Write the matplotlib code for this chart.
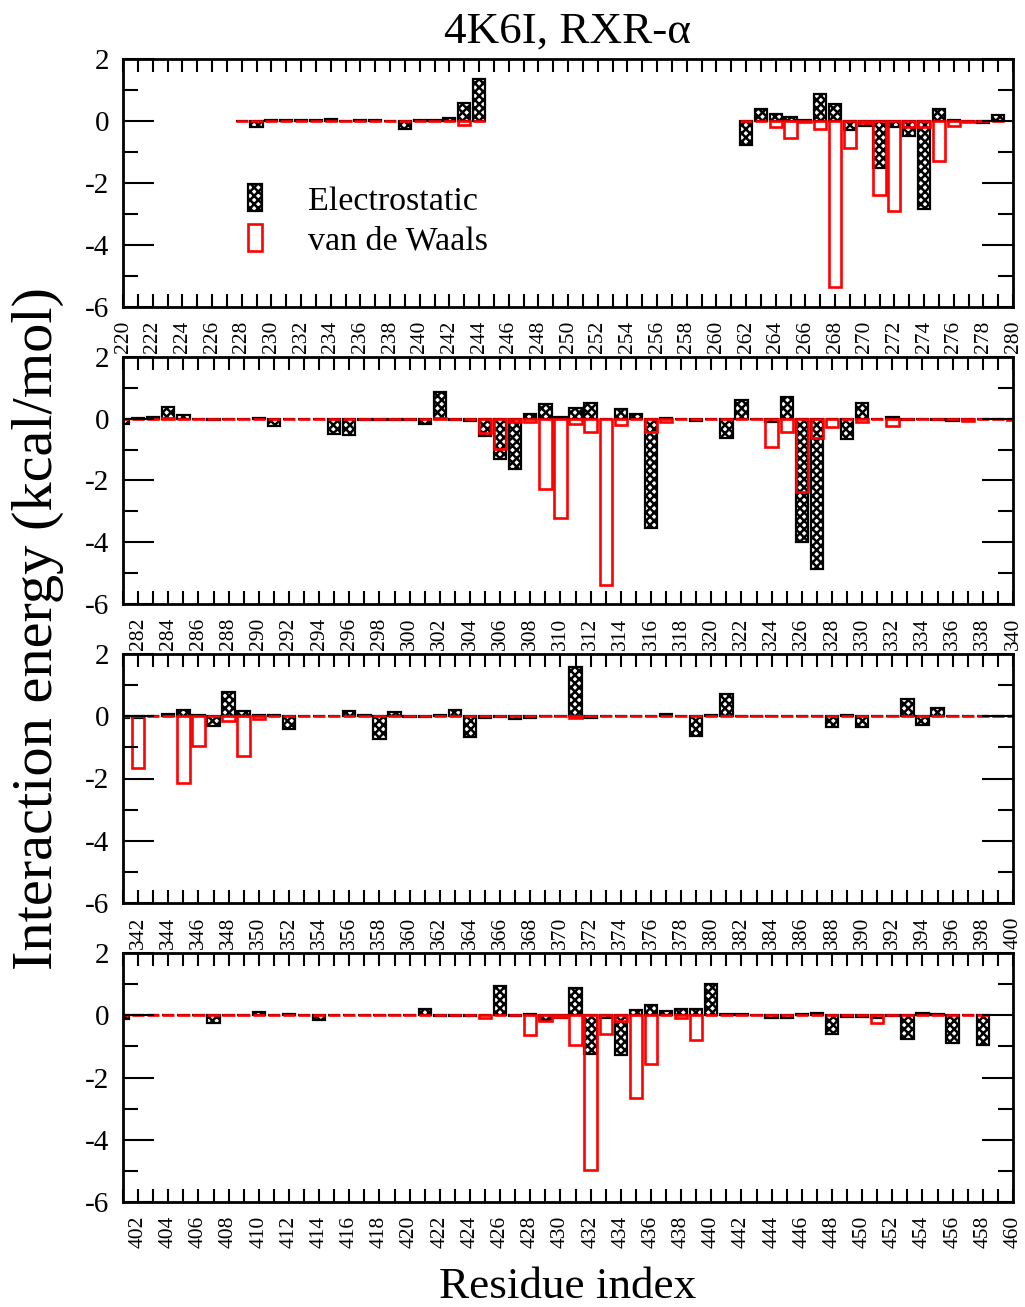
import numpy as np
import matplotlib
matplotlib.use("Agg")
import matplotlib.pyplot as plt
from matplotlib.patches import Patch
from matplotlib.ticker import MultipleLocator

plt.rcParams['font.family'] = ['Liberation Serif', 'DejaVu Serif']
plt.rcParams['hatch.linewidth'] = 1.8
plt.rcParams['axes.unicode_minus'] = False

# residue numbers (gap 245-261 and 280 have no data)
residues = np.concatenate([np.arange(228, 245), np.arange(262, 280), np.arange(281, 459)])

# electrostatic interaction energy (kcal/mol), one value per residue
elec = [
    # 228-244
    0.0, -0.19, 0.02, 0.03, 0.02, 0.03, 0.05, 0.0, 0.03, 0.03, 0.0, -0.27, 0.02, 0.02, 0.1, 0.59, 1.37,
    # 262-279
    -0.78, 0.38, 0.24, 0.14, 0.02, 0.86, 0.54, -0.3, -0.15, -1.5, -0.2, -0.48, -2.85, 0.38, 0.02, 0.0, -0.05, 0.19,
    # 281-300
    -0.17, 0.03, 0.05, 0.37, 0.13, 0.0, -0.05, 0.0, 0.0, 0.02, -0.25, 0.0, -0.02, 0.0, -0.48, -0.52, -0.05, -0.05, -0.05, -0.05,
    # 301-320
    -0.16, 0.88, -0.03, -0.08, -0.56, -1.31, -1.63, 0.14, 0.48, 0.05, 0.34, 0.5, 0.0, 0.32, 0.16, -3.55, 0.03, 0.0, -0.07, 0.0,
    # 321-340
    -0.62, 0.62, 0.0, -0.1, 0.72, -3.98, -4.87, 0.0, -0.67, 0.5, 0.0, 0.05, -0.05, 0.0, -0.03, -0.07, -0.03, 0.0, 0.0, 0.0,
    # 341-360
    -0.05, -0.05, 0.02, 0.07, 0.19, 0.03, -0.3, 0.77, 0.16, 0.03, 0.03, -0.41, 0.02, 0.0, 0.02, 0.16, 0.03, -0.72, 0.13, -0.03,
    # 361-380
    -0.03, 0.05, 0.21, -0.67, -0.05, -0.02, -0.1, -0.07, 0.0, 0.0, 1.58, -0.05, 0.0, 0.02, 0.0, 0.02, 0.07, 0.0, -0.65, 0.05,
    # 381-400
    0.7, 0.0, 0.02, 0.0, 0.0, 0.0, 0.0, -0.34, 0.03, -0.35, 0.02, 0.0, 0.57, -0.27, 0.27, 0.0, 0.0, 0.0, 0.0, 0.0,
    # 401-420
    -0.12, 0.0, 0.0, 0.0, 0.0, 0.0, -0.24, 0.0, 0.0, 0.1, 0.0, 0.03, 0.0, -0.16, 0.0, 0.0, 0.0, 0.0, 0.0, 0.0,
    # 421-440
    0.21, -0.03, -0.03, -0.03, 0.0, 0.95, -0.03, 0.05, -0.15, -0.08, 0.88, -1.24, -0.08, -1.29, 0.16, 0.32, 0.13, 0.19, 0.19, 1.0,
    # 441-458
    0.05, 0.03, 0.0, -0.1, -0.08, 0.05, 0.08, -0.59, -0.05, -0.05, -0.1, -0.03, -0.75, 0.08, 0.03, -0.89, 0.0, -0.95,
]

# van der Waals interaction energy (kcal/mol)
vdw = [
    # 228-244
    0.0, 0.0, 0.0, 0.0, 0.0, 0.0, 0.0, 0.0, 0.0, 0.0, 0.0, 0.0, 0.0, 0.0, 0.0, -0.12, 0.0,
    # 262-279
    0.0, 0.0, -0.19, -0.56, -0.02, -0.27, -5.35, -0.88, -0.08, -2.39, -2.9, -0.2, -0.2, -1.29, -0.16, -0.02, 0.0, 0.0,
    # 281-300
    0.0, 0.0, 0.0, 0.02, 0.0, 0.0, 0.0, 0.0, 0.0, 0.0, 0.0, 0.0, 0.0, 0.0, 0.0, 0.0, 0.0, 0.0, 0.0, 0.0,
    # 301-320
    0.0, 0.02, 0.0, 0.0, -0.45, -0.97, -0.1, -0.1, -2.28, -3.23, -0.16, -0.43, -5.4, -0.2, 0.0, -0.43, -0.1, 0.0, 0.0, 0.0,
    # 321-340
    0.0, 0.0, 0.0, -0.91, -0.43, -2.37, -0.61, -0.27, 0.0, -0.1, 0.0, -0.22, 0.0, 0.0, 0.0, -0.02, -0.08, 0.0, 0.0, -0.05,
    # 341-360
    0.0, -1.65, 0.0, 0.0, -2.15, -0.94, 0.0, -0.15, -1.29, -0.1, 0.0, 0.0, 0.0, 0.0, 0.0, 0.0, 0.0, 0.0, 0.0, 0.0,
    # 361-380
    0.0, 0.0, 0.0, 0.0, 0.0, 0.0, 0.0, 0.0, 0.0, 0.0, -0.05, 0.0, 0.0, 0.0, 0.0, 0.0, 0.0, 0.0, 0.0, 0.0,
    # 381-400
    0.0, 0.0, 0.0, 0.0, 0.0, 0.0, 0.0, 0.0, 0.0, 0.0, 0.0, 0.0, 0.0, 0.0, 0.0, 0.0, 0.0, 0.0, 0.0, 0.0,
    # 401-420
    0.0, 0.0, 0.0, 0.0, 0.0, 0.0, 0.0, 0.0, 0.0, 0.0, 0.0, 0.0, 0.0, 0.0, 0.0, 0.0, 0.0, 0.0, 0.0, 0.0,
    # 421-440
    0.0, 0.0, 0.0, 0.0, -0.1, 0.0, 0.0, -0.62, -0.2, -0.05, -0.94, -4.97, -0.59, -0.2, -2.66, -1.58, 0.0, -0.1, -0.8, 0.0,
    # 441-458
    0.0, 0.0, 0.0, 0.0, 0.0, 0.0, 0.0, 0.0, 0.0, 0.0, -0.24, 0.0, 0.0, 0.0, 0.0, 0.0, 0.0, 0.0,
]

# x ranges of the four panels
panel_ranges = [(220, 280), (281, 340), (341, 400), (401, 460)]

W, H = 1025, 1307
fig = plt.figure(figsize=(W / 100, H / 100), dpi=100)

# panel boxes in pixels: (top, bottom)
boxes = [(59, 307), (357, 604), (654, 903), (953, 1202)]
left_px, right_px = 123, 1013

axes = []
for (top, bot), (x0, x1) in zip(boxes, panel_ranges):
    ax = fig.add_axes([left_px / W, 1 - bot / H, (right_px - left_px) / W, (bot - top) / H])
    ax.bar(residues, elec, width=0.82, color='white', edgecolor='black', hatch='xxxx', lw=1.6)
    ax.bar(residues, vdw, width=0.82, facecolor='none', edgecolor='red', lw=1.9)
    ax.set_xlim(x0, x1)
    ax.set_ylim(-6, 2)
    ax.xaxis.set_major_locator(MultipleLocator(2))
    ax.xaxis.set_minor_locator(MultipleLocator(1))
    ax.yaxis.set_major_locator(MultipleLocator(2))
    ax.yaxis.set_minor_locator(MultipleLocator(1))
    ax.tick_params(axis='x', which='both', direction='in', top=True, length=9.5, width=1.5)
    ax.tick_params(axis='x', which='major', labelrotation=90, labelsize=15.5, pad=10)
    ax.tick_params(axis='y', which='major', direction='in', right=True, length=22, width=1.5,
                   labelsize=21, pad=10)
    ax.tick_params(axis='y', which='minor', direction='in', right=True, length=11, width=1.5)
    for s in ax.spines.values():
        s.set_linewidth(2)
    axes.append(ax)

handles = [Patch(facecolor='white', edgecolor='black', hatch='xxxx', lw=1.6),
           Patch(facecolor='white', edgecolor='red', lw=1.9)]
axes[0].legend(handles, ['Electrostatic', 'van de Waals'], loc='upper left',
               bbox_to_anchor=(0.14, 0.495), frameon=False, fontsize=24.5,
               handlelength=0.42, handleheight=0.85, handletextpad=1.35,
               labelspacing=0.22, borderpad=0, borderaxespad=0)

fig.text(567 / W, 1 - 43 / H, '4K6I, RXR-α', ha='center', va='baseline', fontsize=32.5)
fig.text(568 / W, 1 - 1298 / H, 'Residue index', ha='center', va='baseline', fontsize=32.5)
fig.text(38 / W, 1 - 629 / H, 'Interaction energy (kcal/mol)', rotation=90,
         ha='center', va='center', fontsize=42)

fig.savefig('out.png', dpi=100)
